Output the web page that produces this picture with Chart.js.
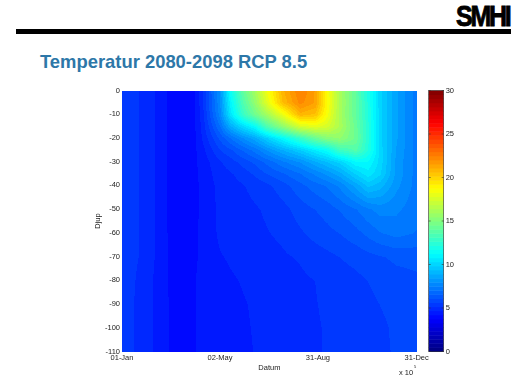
<!DOCTYPE html>
<html>
<head>
<meta charset="utf-8">
<style>
  html, body { margin: 0; padding: 0; background: #fff; overflow: hidden; }
  #wrap { position: relative; width: 523px; height: 385px; }
  #logo { position: absolute; left: 456px; top: 0px; font: 900 29px/33px "Liberation Sans", sans-serif; letter-spacing: -2.6px; color: #000; -webkit-text-stroke: 0.9px #000; transform: scaleX(0.86); transform-origin: left top; }
  #bar { position: absolute; left: 16px; top: 29px; width: 495px; height: 5px; background: #000; }
  #title { position: absolute; left: 40px; top: 51px; font: bold 18.4px/22px "Liberation Sans", sans-serif; color: #2d77a8; white-space: nowrap; }
  canvas { position: absolute; left: 0; top: 0; }
</style>
</head>
<body>
<div id="wrap">
  <div id="logo">SMHI</div>
  <div id="bar"></div>
  <div id="title">Temperatur 2080-2098 RCP 8.5</div>
  <canvas id="chart" width="523" height="385"></canvas>
</div>
<script src="https://cdn.jsdelivr.net/npm/chart.js@4/dist/chart.umd.min.js"></script>
<script>
// day of year for each grid column
const days = [1, 25, 35, 50, 60, 90, 100, 122, 135, 150, 165, 180, 200, 221, 240, 255, 270, 290, 305, 320, 340, 365];
const depths = [0, -5, -10, -15, -20, -25, -30, -35, -40, -50, -60, -70, -80, -90, -100, -110];

// temperature, one row per depth
const t0    = [5.6, 5.1, 4.9, 4.4, 4.1, 4.1, 5.0, 8.0, 11.5, 14.0, 16.0, 18.3, 21.0, 22.5, 21.5, 18.6, 16.2, 14.0, 12.0, 10.0, 8.5, 7.3];
const t5    = [5.6, 5.1, 4.9, 4.4, 4.1, 4.1, 5.0, 7.9, 11.0, 13.5, 15.5, 17.8, 20.7, 22.2, 21.5, 18.7, 16.3, 14.0, 12.1, 10.0, 8.5, 7.3];
const t10   = [5.6, 5.1, 4.9, 4.4, 4.1, 4.1, 4.9, 7.7, 10.5, 12.8, 14.5, 16.0, 18.2, 20.9, 20.5, 18.4, 16.2, 14.0, 12.2, 10.0, 8.5, 7.3];
const t15   = [5.6, 5.1, 4.9, 4.4, 4.1, 4.1, 4.8, 7.0, 8.8, 10.2, 11.3, 13.5, 15.5, 17.5, 18.0, 17.5, 16.3, 14.3, 12.3, 10.0, 8.5, 7.3];
const t20   = [5.6, 5.1, 4.9, 4.4, 4.1, 4.1, 4.7, 6.2, 7.0, 7.9, 8.7, 9.8, 11.2, 12.8, 14.3, 15.2, 15.5, 14.4, 12.3, 10.0, 8.5, 7.3];
const t25   = [5.6, 5.1, 4.9, 4.4, 4.1, 4.1, 4.5, 5.6, 6.0, 6.6, 7.2, 8.0, 8.9, 9.8, 10.8, 11.5, 13.0, 13.7, 12.2, 10.1, 8.4, 7.3];
const t30   = [5.6, 5.1, 4.9, 4.4, 4.1, 4.1, 4.4, 5.1, 5.4, 5.8, 6.2, 6.7, 7.4, 8.0, 8.8, 9.4, 10.0, 11.2, 11.2, 10.1, 8.3, 7.3];
const t35   = [5.6, 5.1, 4.9, 4.4, 4.1, 4.1, 4.35, 4.95, 5.1, 5.35, 5.7, 6.1, 6.5, 7.0, 7.6, 8.1, 8.7, 9.9, 10.6, 9.9, 8.3, 7.3];
const t40   = [5.6, 5.1, 4.9, 4.4, 4.1, 4.1, 4.3, 4.85, 4.97, 5.12, 5.3, 5.5, 5.9, 6.4, 6.8, 7.1, 7.6, 8.6, 9.5, 9.1, 8.1, 7.3];
const t50   = [5.6, 5.1, 4.9, 4.4, 4.1, 4.1, 4.3, 4.8, 4.9, 5.0, 5.1, 5.22, 5.45, 5.85, 6.1, 6.3, 6.6, 7.0, 7.4, 7.7, 7.6, 7.2];
const t60   = [5.6, 5.1, 4.9, 4.4, 4.15, 4.15, 4.3, 4.78, 4.87, 4.97, 5.05, 5.13, 5.25, 5.55, 5.8, 5.95, 6.1, 6.4, 6.7, 7.0, 7.2, 7.0];
const t70   = [5.5, 5.1, 4.9, 4.4, 4.15, 4.15, 4.3, 4.65, 4.75, 4.85, 4.95, 5.0, 5.1, 5.2, 5.37, 5.5, 5.63, 5.78, 5.93, 6.05, 6.2, 6.25];
const t80   = [5.5, 5.0, 4.8, 4.4, 4.15, 4.2, 4.3, 4.5, 4.62, 4.72, 4.8, 4.88, 4.97, 5.07, 5.16, 5.27, 5.38, 5.5, 5.63, 5.75, 5.9, 6.0];
const t90   = [5.4, 5.0, 4.8, 4.4, 4.2, 4.2, 4.3, 4.42, 4.52, 4.65, 4.74, 4.82, 4.93, 5.03, 5.14, 5.22, 5.31, 5.43, 5.53, 5.63, 5.73, 5.85];
const t100  = [5.4, 5.0, 4.8, 4.4, 4.2, 4.2, 4.3, 4.42, 4.5, 4.62, 4.72, 4.8, 4.9, 5.0, 5.12, 5.19, 5.27, 5.38, 5.47, 5.56, 5.68, 5.8];
const t110  = [5.4, 5.0, 4.8, 4.4, 4.2, 4.2, 4.3, 4.4, 4.5, 4.6, 4.7, 4.8, 4.9, 5.0, 5.13, 5.18, 5.27, 5.4, 5.5, 5.58, 5.65, 5.75];
const tempRows = [t0, t5, t10, t15, t20, t25, t30, t35, t40, t50, t60, t70, t80, t90, t100, t110];

const dayTicks = [1, 122, 243, 365];
const dayLabels = ['01-Jan', '02-May', '31-Aug', '31-Dec'];
const depthTicks = [0, -10, -20, -30, -40, -50, -60, -70, -80, -90, -100, -110];
const colorTicks = [0, 5, 10, 15, 20, 25, 30];
const colorMin = 0;
const colorMax = 30;
const colorLevels = 64;

const cells = [];
tempRows.forEach((row, r) => row.forEach((v, c) => cells.push({ x: days[c], y: depths[r], v: v })));

// matlab style jet, split into 64 flat steps
function jet(v) {
  const f = (Math.floor(Math.min(0.9999, Math.max(0, (v - colorMin) / (colorMax - colorMin))) * colorLevels) + 0.5) / colorLevels;
  const ch = (d) => Math.round(255 * Math.max(0, Math.min(1, 1.5 - Math.abs(4 * f - d))));
  return [ch(3), ch(2), ch(1)];
}

function segment(list, val) {
  let i = 0;
  if (list[0] < list[list.length - 1]) {
    while (i < list.length - 2 && val > list[i + 1]) i++;
  } else {
    while (i < list.length - 2 && val < list[i + 1]) i++;
  }
  return i;
}

// paints the field pixel by pixel, shading between the grid values
const surface = {
  id: 'surface',
  beforeDatasetsDraw(chart) {
    const { ctx, chartArea: a, scales } = chart;
    const w = Math.round(a.right - a.left), h = Math.round(a.bottom - a.top);
    const img = ctx.createImageData(w, h);
    for (let py = 0; py < h; py++) {
      const dep = scales.y.getValueForPixel(a.top + py + 0.5);
      const r = segment(depths, dep);
      const ty = (dep - depths[r]) / (depths[r + 1] - depths[r]);
      for (let px = 0; px < w; px++) {
        const day = scales.x.getValueForPixel(a.left + px + 0.5);
        const c = segment(days, day);
        const tx = (day - days[c]) / (days[c + 1] - days[c]);
        const top = tempRows[r][c] * (1 - tx) + tempRows[r][c + 1] * tx;
        const bot = tempRows[r + 1][c] * (1 - tx) + tempRows[r + 1][c + 1] * tx;
        const rgb = jet(top * (1 - ty) + bot * ty);
        const k = (py * w + px) * 4;
        img.data[k] = rgb[0]; img.data[k + 1] = rgb[1]; img.data[k + 2] = rgb[2]; img.data[k + 3] = 255;
      }
    }
    ctx.putImageData(img, Math.round(a.left), Math.round(a.top));

    // colour bar next to the plot
    const cs = scales.c, bx = a.right + 12, bw = 15;
    for (let i = 0; i < colorLevels; i++) {
      const lo = colorMin + (colorMax - colorMin) * i / colorLevels;
      const hi = colorMin + (colorMax - colorMin) * (i + 1) / colorLevels;
      const rgb = jet((lo + hi) / 2);
      ctx.fillStyle = 'rgb(' + rgb.join(',') + ')';
      ctx.fillRect(bx, cs.getPixelForValue(hi), bw, cs.getPixelForValue(lo) - cs.getPixelForValue(hi) + 0.5);
    }
    ctx.strokeStyle = '#333';
    ctx.lineWidth = 0.6;
    ctx.strokeRect(bx, a.top, bw, a.bottom - a.top);
    colorTicks.forEach((t) => {
      const p = cs.getPixelForValue(t);
      ctx.beginPath();
      ctx.moveTo(bx, p); ctx.lineTo(bx + 2, p);
      ctx.moveTo(bx + bw - 2, p); ctx.lineTo(bx + bw, p);
      ctx.stroke();
    });
  },
  afterDraw(chart) {
    const { ctx } = chart;
    ctx.save();
    ctx.fillStyle = '#222';
    ctx.font = '7.5px "Liberation Sans", sans-serif';
    ctx.textBaseline = 'alphabetic';
    ctx.fillText('x 10', 399, 375);
    ctx.font = '4px "Liberation Sans", sans-serif';
    ctx.fillText('5', 414, 368);
    ctx.restore();
  }
};

const font7 = { family: '"Liberation Sans", sans-serif', size: 7.5 };

new Chart(document.getElementById('chart'), {
  type: 'scatter',
  data: { datasets: [{ label: 'Temperatur', data: cells, pointRadius: 0, pointHoverRadius: 0 }] },
  plugins: [surface],
  options: {
    responsive: false,
    animation: false,
    layout: { padding: { left: 93, top: 90.5, right: 0, bottom: 11 } },
    plugins: { legend: { display: false }, tooltip: { enabled: false } },
    events: [],
    scales: {
      x: {
        type: 'linear', min: 1, max: 365,
        afterBuildTicks: (s) => { s.ticks = dayTicks.map((v) => ({ value: v })); },
        ticks: { font: font7, color: '#222', maxRotation: 0, padding: 2, autoSkip: false,
          callback: (v) => dayLabels[dayTicks.indexOf(v)] },
        grid: { display: false, drawTicks: false }, border: { display: false },
        title: { display: true, text: 'Datum', color: '#222', font: font7, padding: { top: 0, bottom: 0 } },
        afterFit: (s) => { s.height = 21.3; }
      },
      y: {
        type: 'linear', min: -110, max: 0,
        afterBuildTicks: (s) => { s.ticks = depthTicks.map((v) => ({ value: v })); },
        ticks: { font: font7, color: '#222', padding: 2, autoSkip: false },
        grid: { display: false, drawTicks: false }, border: { display: false },
        title: { display: true, text: 'Djup', color: '#222', font: font7, padding: 0 },
        afterFit: (s) => { s.width = 29; }
      },
      c: {
        type: 'linear', position: 'right', min: colorMin, max: colorMax,
        afterBuildTicks: (s) => { s.ticks = colorTicks.map((v) => ({ value: v })); },
        ticks: { font: font7, color: '#222', padding: 29, autoSkip: false },
        grid: { display: false, drawTicks: false }, border: { display: false },
        afterFit: (s) => { s.width = 106.3; }
      }
    }
  }
});
</script>
</body>
</html>
